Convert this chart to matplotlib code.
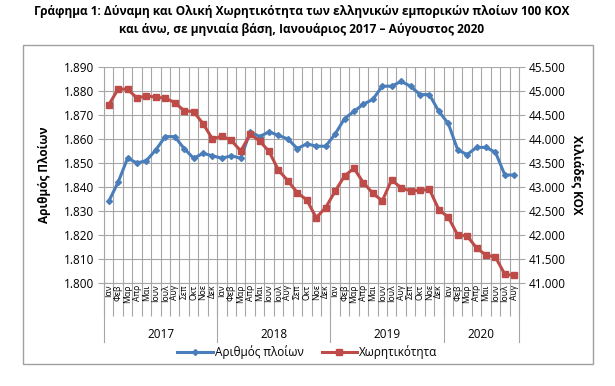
import numpy as np
import matplotlib
matplotlib.use("Agg")
import matplotlib.pyplot as plt
from matplotlib.patches import Rectangle
from matplotlib.ticker import FuncFormatter

plt.rcParams['font.family'] = ['Open Sans', 'DejaVu Sans']

months = ["Ιαν", "Φεβ", "Μαρ", "Απρ", "Μαι", "Ιουν", "Ιουλ", "Αυγ", "Σεπ", "Οκτ", "Νοε", "Δεκ"]
years = ["2017", "2018", "2019", "2020"]
month_labels = months * 3 + months[:8]

# number of ships (left axis)
ships = [1834, 1842, 1852, 1850, 1851, 1855.5, 1861, 1861, 1856, 1852, 1854, 1853,
         1852, 1853, 1852, 1863, 1861, 1863, 1861.5, 1860, 1856, 1858, 1857, 1857,
         1862, 1868.5, 1871.5, 1874.5, 1876.5, 1882, 1882, 1884, 1882, 1878.5, 1878.5, 1871.5,
         1866.5, 1855.5, 1853.5, 1856.5, 1856.5, 1854.5, 1845, 1845]
# gross tonnage, thousands GT (right axis)
tonnage = [44710, 45040, 45040, 44850, 44900, 44870, 44850, 44760, 44590, 44570, 44320, 44000,
           44060, 43970, 43750, 44100, 43960, 43740, 43350, 43130, 42880, 42730, 42360, 42570,
           42910, 43230, 43390, 43090, 42870, 42710, 43150, 42980, 42920, 42930, 42950, 42530,
           42370, 42000, 41980, 41730, 41580, 41540, 41180, 41160]

blue = "#4A7EBB"
red = "#BE4B48"
grid_c = "#A6A6A6"

fig = plt.figure(figsize=(6.15, 3.86), dpi=100)
ax = fig.add_axes([104/615, 1-283/386, 415/615, 216/386])
ax2 = ax.twinx()

x = np.arange(len(ships))
ax.plot(x, ships, color=blue, lw=2.2, marker="D", ms=3, label="Αριθμός πλοίων")
ax2.plot(x, tonnage, color=red, lw=2.2, marker="s", ms=4.5, label="Χωρητικότητα")

ax.set_xlim(-0.5, len(ships) - 0.5)
ax.set_ylim(1800, 1890)
ax2.set_ylim(41000, 45500)
ax.set_yticks(np.arange(1800, 1891, 10))
ax2.set_yticks(np.arange(41000, 45501, 500))
fmt = FuncFormatter(lambda v, p: f"{int(v):,}".replace(",", "."))
ax.yaxis.set_major_formatter(fmt)
ax2.yaxis.set_major_formatter(fmt)

ax.set_xticks(np.arange(-0.5, len(ships), 1))
ax.set_xticklabels([])
ax.set_xticks(x, minor=True)
ax.set_xticklabels(month_labels, minor=True, rotation=90, fontsize=6.2)
ax.tick_params(axis="x", which="major", length=24, color=grid_c, width=0.8)
ax.tick_params(axis="x", which="minor", length=0, pad=1)
ax.tick_params(axis="y", length=4, color=grid_c, labelsize=8.5, pad=3)
ax2.tick_params(axis="y", length=4, color=grid_c, labelsize=8.5, pad=3)

ax.grid(True, which="major", color=grid_c, lw=0.8)
ax.set_axisbelow(True)
for a in (ax, ax2):
    for s in a.spines.values():
        s.set_visible(False)
ax.spines["left"].set_visible(True)
ax.spines["left"].set_color(grid_c)
ax.spines["bottom"].set_visible(True)
ax.spines["bottom"].set_color(grid_c)
ax2.spines["right"].set_visible(True)
ax2.spines["right"].set_color(grid_c)

# year separators and labels
trans = ax.get_xaxis_transform()
for b in [-0.5, 11.5, 23.5, 35.5, 43.5]:
    ax.plot([b, b], [0, -59/216], transform=trans, color=grid_c, lw=0.8, clip_on=False)
for yl, c in zip(years, [5.5, 17.5, 29.5, 39.5]):
    ax.text(c, -52/216, yl, transform=trans, ha="center", va="center", fontsize=8.5)

ax.set_ylabel("Αριθμός Πλοίων", fontsize=8.5, fontweight="bold", labelpad=9)
ax2.set_ylabel("Χιλιάδες ΚΟΧ", fontsize=8.5, fontweight="bold", rotation=270, labelpad=13)

h1, l1 = ax.get_legend_handles_labels()
h2, l2 = ax2.get_legend_handles_labels()
fig.legend(h1 + h2, l1 + l2, loc="center", bbox_to_anchor=(0.5, 1-352/386), ncol=2,
           frameon=False, fontsize=8.5, handlelength=3, columnspacing=1.5, handletextpad=0.2)

fig.patches.append(Rectangle((23/615, 1-364/386), 570/615, 319/386, transform=fig.transFigure,
                             fill=False, edgecolor="#A0A0A0", lw=1))

fig.text(0.49, 1-12/386, "Γράφημα 1: Δύναμη και Ολική Χωρητικότητα των ελληνικών εμπορικών πλοίων 100 ΚΟΧ",
         ha="center", va="center", fontsize=8.6, fontweight="bold")
fig.text(0.49, 1-30/386, "και άνω, σε μηνιαία βάση, Ιανουάριος 2017 – Αύγουστος 2020",
         ha="center", va="center", fontsize=8.6, fontweight="bold")

fig.savefig("out.png", dpi=100)
